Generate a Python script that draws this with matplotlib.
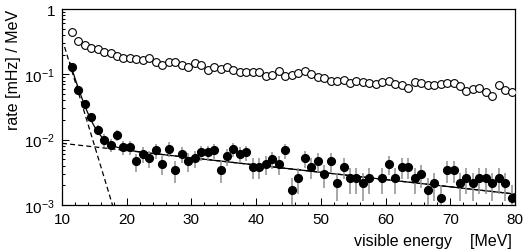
import numpy as np
import matplotlib
matplotlib.use('Agg')
import matplotlib.pyplot as plt
from matplotlib.ticker import FixedLocator, FixedFormatter, MultipleLocator, LogLocator, NullFormatter

plt.rcParams['font.family'] = ['Liberation Sans', 'DejaVu Sans']
plt.rcParams['mathtext.fontset'] = 'custom'
plt.rcParams['mathtext.rm'] = 'Liberation Sans'
plt.rcParams['mathtext.it'] = 'Liberation Sans:italic'
plt.rcParams['mathtext.bf'] = 'Liberation Sans:bold'

# 1 MeV bins, centres 11.5 ... 79.5
energy = np.arange(11.5, 80.0, 1.0)

# open circles (upper spectrum)
rate_open = [0.44, 0.32, 0.281, 0.25, 0.244, 0.217, 0.21, 0.193, 0.178, 0.18,
             0.17, 0.164, 0.178, 0.156, 0.14, 0.156, 0.153, 0.139, 0.131, 0.147,
             0.139, 0.118, 0.128, 0.121, 0.131, 0.118, 0.107, 0.107, 0.107, 0.107,
             0.095, 0.099, 0.111, 0.095, 0.098, 0.105, 0.114, 0.101, 0.092, 0.087,
             0.080, 0.078, 0.083, 0.074, 0.080, 0.075, 0.073, 0.071, 0.075, 0.080,
             0.071, 0.069, 0.061, 0.077, 0.074, 0.069, 0.069, 0.071, 0.073, 0.073,
             0.066, 0.056, 0.060, 0.061, 0.053, 0.046, 0.068, 0.058, 0.053]

# filled circles (lower spectrum), nan = off scale
rate_filled = [0.128, 0.0581, 0.0351, 0.0224, 0.0142, 0.0099, 0.0083, 0.0119, 0.0076, 0.0076,
               0.00465, 0.0060, 0.00517, 0.0069, 0.00428, 0.0073, 0.00342, 0.0060, 0.0047, 0.00517,
               0.0064, 0.0064, 0.0069, 0.00342, 0.00555, 0.00718, 0.0060, 0.0064, 0.00385, 0.00385,
               0.00423, 0.00505, 0.00423, 0.0069, 0.00169, 0.00256, 0.00517, 0.00385, 0.0047, 0.0030,
               0.0047, 0.00214, 0.00385, 0.00256, 0.00256, 0.00214, 0.00256, np.nan, 0.00256, 0.00423,
               0.00256, 0.00385, 0.00385, 0.00256, 0.0030, 0.00169, 0.00214, 0.00126, 0.00342, 0.00342,
               0.00214, 0.00256, 0.00214, 0.00256, 0.00256, 0.00214, 0.00256, 0.00214, 0.00126]

err_filled = [0.0076, 0.0051, 0.0040, 0.0032, 0.0025, 0.0021, 0.0019, 0.0023, 0.00185, 0.00185,
              0.00145, 0.00164, 0.00153, 0.00176, 0.00139, 0.00181, 0.00124, 0.00164, 0.00145, 0.00153,
              0.0017, 0.0017, 0.00176, 0.00124, 0.00158, 0.0018, 0.00164, 0.0017, 0.00132, 0.00132,
              0.00138, 0.00151, 0.00138, 0.00176, 0.00087, 0.00107, 0.00153, 0.00132, 0.00145, 0.00116,
              0.00145, 0.00098, 0.00132, 0.00107, 0.00107, 0.00098, 0.00107, np.nan, 0.00107, 0.00138,
              0.00107, 0.00132, 0.00132, 0.00107, 0.00116, 0.00087, 0.00098, 0.00075, 0.00124, 0.00124,
              0.00098, 0.00107, 0.00098, 0.00107, 0.00107, 0.00098, 0.00107, 0.00098, 0.00075]

# fit: steep exponential + slow exponential (decades per MeV)
steep_norm, steep_slope, steep_start = 0.244, 0.327, 10.5
flat_norm, flat_slope = 0.0088, 0.0111

ytick_vals = [1e-3, 1e-2, 1e-1, 1]
ytick_labels = ['$10^{-3}$', '$10^{-2}$', '$10^{-1}$', '1']


def steep(e):
    return steep_norm * 10 ** (-steep_slope * (e - steep_start))


def flat(e):
    return flat_norm * 10 ** (-flat_slope * (e - 10))


fig = plt.figure(figsize=(5.24, 2.51), dpi=100)
ax = fig.add_axes([62 / 524, 45 / 251, 453 / 524, 196 / 251])

ax.set_yscale('log')

ax.plot(energy, rate_open, 'o', ms=5.6, mfc='white', mec='black', mew=0.8, zorder=3)
ax.errorbar(energy, rate_filled, yerr=err_filled, fmt='o', ms=5.6, color='black',
            ecolor='#909090', elinewidth=1.1, capsize=0, zorder=4)

e_all = np.linspace(10, 80, 400)
e_steep = np.linspace(10.4, 20, 200)
ax.plot(e_all, flat(e_all), '--', color='black', lw=0.9, dashes=(4, 2.5))
ax.plot(e_steep, steep(e_steep), '--', color='black', lw=0.9, dashes=(4, 2.5))
e_fit = np.linspace(11.2, 80, 400)
ax.plot(e_fit, steep(e_fit) + flat(e_fit), '-', color='black', lw=0.9)

ax.set_xlim(10, 80)
ax.set_ylim(1e-3, 1)

ax.xaxis.set_major_locator(MultipleLocator(10))
ax.xaxis.set_minor_locator(MultipleLocator(2))
ax.yaxis.set_major_locator(FixedLocator(ytick_vals))
ax.yaxis.set_major_formatter(FixedFormatter(ytick_labels))
ax.yaxis.set_minor_locator(LogLocator(base=10, subs=np.arange(2, 10)))
ax.yaxis.set_minor_formatter(NullFormatter())

ax.tick_params(which='both', direction='in', top=False, right=False, width=0.75, labelsize=11)
ax.tick_params(which='major', length=5, pad=5)
ax.tick_params(which='minor', length=2.5)
for s in ax.spines.values():
    s.set_linewidth(0.9)

fig.text(14 / 524, 1 - 10 / 251, 'rate [mHz] / MeV', rotation=90, ha='center', va='top', fontsize=11.5)
fig.text(512 / 524, 1 - 242 / 251, 'visible energy    [MeV]', ha='right', va='center', fontsize=11.5)

fig.savefig('out.png', dpi=100)
